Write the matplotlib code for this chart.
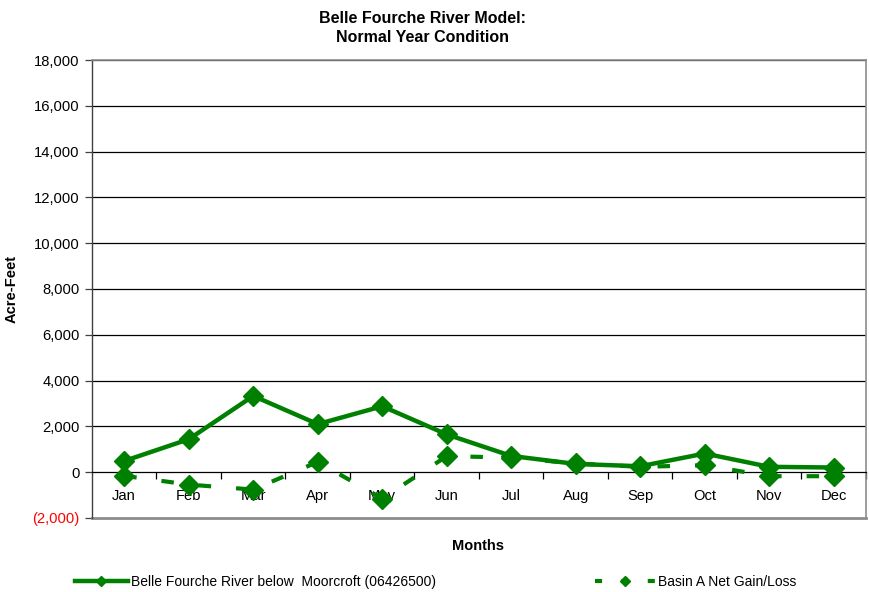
import matplotlib
matplotlib.use("Agg")
import matplotlib.pyplot as plt
from matplotlib.ticker import FuncFormatter, FixedLocator
from matplotlib.lines import Line2D

plt.rcParams['font.family'] = ['Liberation Sans', 'DejaVu Sans']

months = ["Jan", "Feb", "Mar", "Apr", "May", "Jun",
          "Jul", "Aug", "Sep", "Oct", "Nov", "Dec"]
moorcroft_flow = [490, 1440, 3330, 2100, 2880, 1650, 710, 360, 260, 815, 235, 205]
basin_a_gain = [-160, -540, -760, 450, -1150, 700, 640, 380, 235, 305, -175, -175]

series_names = ["Belle Fourche River below  Moorcroft (06426500)",
                "Basin A Net Gain/Loss"]
green = "#008000"

fig = plt.figure(figsize=(8.7, 5.92), dpi=100)
ax = fig.add_axes([92 / 870, 1 - 518 / 592, (866 - 92) / 870, (518 - 60) / 592])

x = list(range(len(months)))
ax.plot(x, moorcroft_flow, color=green, lw=3.2, marker="D", ms=10,
        solid_joinstyle="miter", zorder=4)
ax.plot(x, basin_a_gain, color=green, lw=3.0, marker="D", ms=10,
        dashes=(3, 6), zorder=3)

ax.set_xlim(-0.5, len(months) - 0.5)
ax.set_ylim(-2000, 18000)

# horizontal gridlines
for v in range(2000, 18001, 2000):
    ax.axhline(v, color="black", lw=0.9, zorder=1)

# frame
for side in ("top", "right"):
    ax.spines[side].set_color("#8c8c8c")
    ax.spines[side].set_linewidth(1.2)
ax.spines["left"].set_color("#404040")
ax.spines["left"].set_linewidth(1.0)
ax.spines["bottom"].set_position(("data", 0))
ax.spines["bottom"].set_color("black")
ax.spines["bottom"].set_linewidth(0.9)
ax.axhline(-2000, color="#8c8c8c", lw=2.0, zorder=2, clip_on=False)

# y axis
ax.set_yticks(range(-2000, 18001, 2000))
def fmt(v, pos):
    v = int(round(v))
    if v < 0:
        return "({:,})".format(-v)
    return "{:,}".format(v)
ax.yaxis.set_major_formatter(FuncFormatter(fmt))
ax.tick_params(axis="y", direction="out", length=5, width=0.9,
               labelsize=10.6, pad=4, color="#404040")
fig.canvas.draw()
for lbl in ax.get_yticklabels():
    if lbl.get_text().startswith("("):
        lbl.set_color("red")

# x axis: ticks between categories, labels at category centres
ax.xaxis.set_major_locator(FixedLocator([i + 0.5 for i in range(len(months))]))
ax.xaxis.set_minor_locator(FixedLocator(x))
ax.xaxis.set_major_formatter(FuncFormatter(lambda v, p: ""))
ax.set_xticklabels(months, minor=True)
ax.tick_params(axis="x", which="major", direction="out", length=5, width=0.9)
ax.tick_params(axis="x", which="minor", length=0, labelsize=10.6, pad=12)

ax.set_ylabel("Acre-Feet", fontsize=10.5, fontweight="bold", labelpad=10)
fig.text(478 / 870, 1 - 546 / 592, "Months", ha="center", va="center",
         fontsize=10.5, fontweight="bold")
fig.text(423 / 870, 1 - 28 / 592, "Belle Fourche River Model:\nNormal Year Condition",
         ha="center", va="center", fontsize=11.5, fontweight="bold", linespacing=1.35)

h1 = Line2D([], [], color=green, lw=3.2, marker="D", ms=5)
h2 = Line2D([], [], color=green, lw=3.0, marker="D", ms=5, dashes=(1.7, 4.63))
fig.legend([h1], [series_names[0]], loc="center left",
           bbox_to_anchor=(62 / 870, 1 - 582 / 592), frameon=False,
           fontsize=10, handlelength=3.85, handletextpad=0.2)
fig.legend([h2], [series_names[1]], loc="center left",
           bbox_to_anchor=(583 / 870, 1 - 582 / 592), frameon=False,
           fontsize=10, handlelength=4.3, handletextpad=0.2)

fig.savefig("out.png", dpi=100)
